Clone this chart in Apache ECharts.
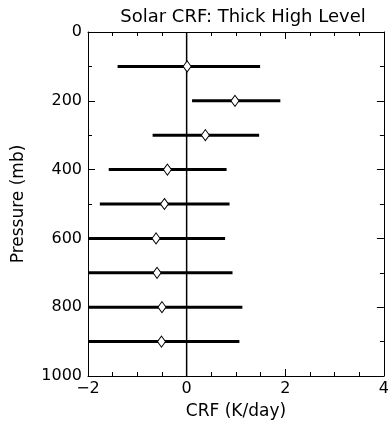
<!DOCTYPE html>
<html>
<head>
<meta charset="utf-8">
<script src="https://cdn.jsdelivr.net/npm/echarts@6/dist/echarts.min.js"></script>
<style>
  html, body { margin: 0; padding: 0; background: #fff; }
  #chart { width: 392px; height: 427px; }
</style>
</head>
<body>
<div id="chart"></div>
<script>
// pressure levels (mb) and CRF range (K/day)
var pressure = [100, 200, 300, 400, 500, 600, 700, 800, 900];
var crfMean = [0.01, 0.98, 0.38, -0.39, -0.45, -0.62, -0.60, -0.50, -0.51];
var crfLow = [-1.40, 0.11, -0.69, -1.58, -1.76, -2.0, -2.0, -2.0, -2.0];
var crfHigh = [1.49, 1.90, 1.47, 0.81, 0.87, 0.78, 0.93, 1.13, 1.07];
var xTicks = [-2, 0, 2, 4];
var yTicks = [0, 200, 400, 600, 800, 1000];

var FONT = 'DejaVu Sans';

var myChart = echarts.init(document.getElementById('chart'));

var barData = pressure.map(function (p, i) {
    return [crfLow[i], crfHigh[i], p];
});
var meanData = pressure.map(function (p, i) {
    return [crfMean[i], p];
});

function tickStyle() {
    return {
        show: true, inside: true, length: 7,
        lineStyle: { color: '#000', width: 1 }
    };
}

var option = {
    backgroundColor: '#fff',
    animation: false,
    title: {
        text: 'Solar CRF: Thick High Level',
        left: 238, top: 3, textAlign: 'center',
        textStyle: { fontFamily: FONT, fontWeight: 'normal', fontSize: 18, color: '#000' }
    },
    grid: { left: 88, right: 3, top: 32, bottom: 51 },
    xAxis: [{
        type: 'value', min: xTicks[0], max: xTicks[xTicks.length - 1], interval: 2,
        name: 'CRF (K/day)', nameLocation: 'middle', nameGap: 27,
        nameTextStyle: { fontFamily: FONT, fontSize: 17, color: '#000' },
        axisLine: { show: true, onZero: false, lineStyle: { color: '#000', width: 1 } },
        axisTick: tickStyle(),
        minorTick: { show: true, splitNumber: 4, length: 4, lineStyle: { color: '#000' } },
        splitLine: { show: false },
        axisLabel: {
            fontFamily: FONT, fontSize: 16, color: '#000', margin: 5,
            formatter: function (v) { return String(v).replace('-', '\u2212'); }
        }
    }, {
        type: 'value', position: 'top', min: xTicks[0], max: xTicks[xTicks.length - 1], interval: 2,
        axisLine: { show: true, onZero: false, lineStyle: { color: '#000', width: 1 } },
        axisTick: tickStyle(),
        minorTick: { show: true, splitNumber: 4, length: 4, lineStyle: { color: '#000' } },
        splitLine: { show: false },
        axisLabel: { show: false }
    }],
    yAxis: [{
        type: 'value', inverse: true, min: yTicks[0], max: yTicks[yTicks.length - 1], interval: 200,
        name: 'Pressure (mb)', nameLocation: 'middle', nameGap: 61, nameRotate: 90,
        nameTextStyle: { fontFamily: FONT, fontSize: 17, color: '#000' },
        axisLine: { show: true, onZero: false, lineStyle: { color: '#000', width: 1 } },
        axisTick: tickStyle(),
        minorTick: { show: true, splitNumber: 2, length: 4, lineStyle: { color: '#000' } },
        splitLine: { show: false },
        axisLabel: {
            fontFamily: FONT, fontSize: 16, color: '#000', margin: 6,
            formatter: function (v) { return String(v); }
        }
    }, {
        type: 'value', position: 'right', inverse: true, min: yTicks[0], max: yTicks[yTicks.length - 1], interval: 200,
        axisLine: { show: true, onZero: false, lineStyle: { color: '#000', width: 1 } },
        axisTick: tickStyle(),
        minorTick: { show: true, splitNumber: 2, length: 4, lineStyle: { color: '#000' } },
        splitLine: { show: false },
        axisLabel: { show: false }
    }],
    series: [{
        // zero line
        type: 'line',
        data: [[0, yTicks[0]], [0, yTicks[yTicks.length - 1]]],
        symbol: 'none',
        lineStyle: { color: '#000', width: 1.5 },
        z: 2
    }, {
        // range bars
        type: 'custom',
        data: barData,
        clip: true,
        renderItem: function (params, api) {
            var a = api.coord([api.value(0), api.value(2)]);
            var b = api.coord([api.value(1), api.value(2)]);
            return {
                type: 'line',
                shape: { x1: a[0], y1: a[1], x2: b[0], y2: b[1] },
                style: { stroke: '#000', lineWidth: 3 }
            };
        },
        z: 3
    }, {
        // means
        type: 'scatter',
        data: meanData,
        symbol: 'diamond',
        symbolSize: [8, 11],
        itemStyle: { color: '#fff', borderColor: '#000', borderWidth: 1, opacity: 1 },
        z: 4
    }]
};

myChart.setOption(option);
</script>
</body>
</html>
